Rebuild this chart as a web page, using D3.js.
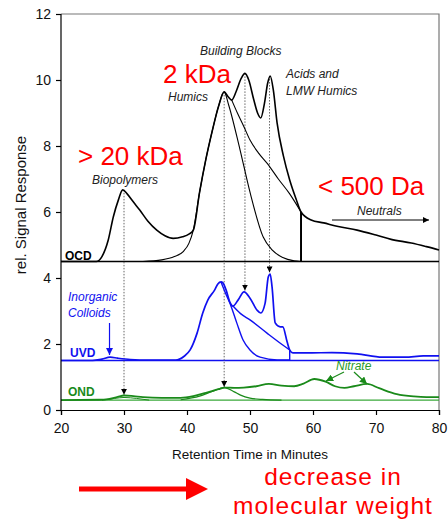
<!DOCTYPE html>
<html><head><meta charset="utf-8">
<script src="https://cdn.jsdelivr.net/npm/d3@7"></script>
<style>body{margin:0;background:#fff}svg{display:block}text{font-family:"Liberation Sans",Arial,sans-serif}</style>
</head><body><svg id="c" width="448" height="521"></svg>
<script>
// ---- data ----
const xTicks = [20,30,40,50,60,70,80];
const yTicks = [0,2,4,6,8,10,12];
const ocdBase = 4.5, uvdBase = 1.5, ondBase = 0.3;
// OCD total chromatogram [minutes, signal]
const ocdMain = [[20,4.5],[25.6,4.5],[26.5,4.65],[27.5,5.15],[28.3,5.85],[29.1,6.36],[29.8,6.67],[30.5,6.55],[31.5,6.3],[32.5,6.06],[33.8,5.72],[35.2,5.45],[36.5,5.28],[37.8,5.2],[39.3,5.25],[40.3,5.33],[41,5.45],[42,6.6],[43,7.6],[44,8.45],[45,9.2],[45.9,9.64],[46.5,9.5],[47.1,9.39],[47.8,9.65],[48.6,10.05],[49.2,10.2],[49.8,10.0],[50.6,9.4],[51.2,9.0],[51.7,8.85],[52.3,9.3],[52.8,9.9],[53.2,10.12],[53.7,9.7],[54.3,8.7],[55.3,7.7],[56.3,6.97],[57.3,6.4],[58.1,6.0],[59.7,5.76],[61.7,5.67],[64,5.56],[67,5.45],[70,5.3],[72.4,5.17],[75.6,5.06],[78,4.95],[80,4.85]];
// OCD humics component
const ocdHumics = [[33,4.5],[36,4.55],[38,4.65],[39.4,4.8],[40.3,5.05],[41,5.45],[42,6.6],[43,7.6],[44,8.45],[45,9.2],[45.9,9.64],[46.6,9.25],[48.4,7.9],[50,6.6],[52.1,5.24],[53.5,4.85],[55.2,4.62],[57,4.52],[58.1,4.5]];
// OCD building-blocks component
const ocdMid = [[47.1,9.39],[48,9.0],[49,8.6],[50,8.18],[51.3,7.8],[52.7,7.48],[54.5,7.0],[56.3,6.55],[58.1,6.0]];
const cutTime = 58.1;
// UVD
const uvdMain = [[20,1.5],[25,1.5],[26.5,1.54],[27.8,1.6],[29,1.57],[31,1.53],[34,1.51],[38.2,1.51],[39.5,1.62],[40.5,1.82],[41.6,2.33],[42.5,2.94],[43.3,3.33],[44.4,3.64],[44.9,3.82],[45.4,3.88],[45.7,3.85],[46.2,3.64],[46.8,3.27],[47.3,3.15],[48.1,3.33],[49.05,3.58],[50,3.39],[51.1,3.03],[51.7,2.94],[52.4,3.24],[52.9,4.03],[53.2,4.12],[53.5,3.73],[54,2.64],[54.8,2.52],[55.2,2.52],[55.9,2.06],[56.3,1.82],[56.8,1.73],[59.5,1.73],[63,1.74],[67,1.7],[71,1.6],[74.6,1.6],[77.5,1.64],[80,1.64]];
const uvdHumics = [[45.4,3.88],[46.2,3.5],[46.8,3.24],[47.9,2.64],[48.9,2.12],[50,1.82],[51.6,1.6],[54.3,1.52],[56.3,1.52]];
const uvdMid = [[47.3,3.15],[48.5,2.92],[50,2.73],[52.7,2.33],[55.2,1.97],[56.3,1.82]];
// OND
const ondMain = [[20,0.3],[26,0.31],[27.5,0.33],[29,0.4],[30,0.44],[31.5,0.42],[33,0.39],[36,0.37],[39,0.37],[41,0.42],[43,0.52],[45,0.63],[46,0.68],[47.5,0.67],[49,0.68],[51,0.72],[53,0.79],[55,0.74],[57,0.72],[58.5,0.8],[60.2,0.94],[62,0.86],[63.5,0.72],[65,0.67],[66.5,0.72],[68.6,0.79],[70.5,0.66],[73.3,0.48],[76,0.41],[78,0.39],[80,0.39]];
const ondHumics = [[39,0.31],[42,0.42],[44,0.56],[45.9,0.68],[47.5,0.55],[48.5,0.45],[50,0.36],[52,0.32],[55,0.3]];
const ondBio = [[26.5,0.3],[28.5,0.35],[30,0.38],[32,0.35],[34,0.3]];
// marker lines: [time, top value, bottom value]
const markers = [[30,6.67,0.46],[45.9,9.64,0.7],[49.2,10.2,3.62],[53.1,10.12,4.17]];

// ---- drawing ----
const svg = d3.select("#c");
const x = d3.scaleLinear().domain([20,80]).range([61,439]);
const y = d3.scaleLinear().domain([0,12]).range([410,14]);
const line = d3.line().x(d=>x(d[0])).y(d=>y(d[1])).curve(d3.curveMonotoneX);
const BLUE="#1010f0", GREEN="#1a8a1a", RED="#ff0000";

svg.append("defs").html(
 '<marker id="ah" viewBox="0 0 10 10" refX="10" refY="5" markerWidth="6" markerHeight="6" orient="auto"><path d="M0,0L10,5L0,10z" fill="#000"/></marker>'+
 '<marker id="ab" viewBox="0 0 10 10" refX="10" refY="5" markerWidth="6" markerHeight="6" orient="auto"><path d="M0,0L10,5L0,10z" fill="'+BLUE+'"/></marker>'+
 '<marker id="ag" viewBox="0 0 10 10" refX="10" refY="5" markerWidth="6" markerHeight="6" orient="auto"><path d="M0,0L10,5L0,10z" fill="'+GREEN+'"/></marker>');

// frame
svg.append("path").attr("d",`M${x(20)},${y(12)}H${x(80)}V${y(0)}`).attr("fill","none").attr("stroke","#777").attr("stroke-width",1.2);

// baselines
svg.append("line").attr("x1",x(20)).attr("x2",x(80)).attr("y1",y(ocdBase)).attr("y2",y(ocdBase)).attr("stroke","#000").attr("stroke-width",1.3);
svg.append("line").attr("x1",x(20)).attr("x2",x(80)).attr("y1",y(uvdBase)).attr("y2",y(uvdBase)).attr("stroke",BLUE).attr("stroke-width",1.6);
svg.append("line").attr("x1",x(20)).attr("x2",x(80)).attr("y1",y(ondBase)).attr("y2",y(ondBase)).attr("stroke","#3aa83a").attr("stroke-width",1.4);

// marker dotted lines
markers.forEach(m=>{
  svg.append("line").attr("x1",x(m[0])).attr("x2",x(m[0])).attr("y1",y(m[1])).attr("y2",y(m[2]))
    .attr("stroke","#666").attr("stroke-width",1).attr("stroke-dasharray","1.5,1.5").attr("marker-end","url(#ah)");
});

// component lines
svg.append("path").attr("d",line(ocdHumics)).attr("fill","none").attr("stroke","#000").attr("stroke-width",1.1);
svg.append("path").attr("d",line(ocdMid)).attr("fill","none").attr("stroke","#000").attr("stroke-width",1.1);
svg.append("line").attr("x1",x(cutTime)).attr("x2",x(cutTime)).attr("y1",y(6.0)).attr("y2",y(ocdBase)).attr("stroke","#000").attr("stroke-width",2);
svg.append("path").attr("d",line(uvdHumics)).attr("fill","none").attr("stroke",BLUE).attr("stroke-width",1.4);
svg.append("path").attr("d",line(uvdMid)).attr("fill","none").attr("stroke",BLUE).attr("stroke-width",1.4);
svg.append("line").attr("x1",x(56.3)).attr("x2",x(56.3)).attr("y1",y(1.82)).attr("y2",y(uvdBase)).attr("stroke",BLUE).attr("stroke-width",1.4);
svg.append("path").attr("d",line(ondHumics)).attr("fill","none").attr("stroke",GREEN).attr("stroke-width",1.2);
svg.append("path").attr("d",line(ondBio)).attr("fill","none").attr("stroke",GREEN).attr("stroke-width",1);

// main curves
svg.append("path").attr("d",line(ocdMain)).attr("fill","none").attr("stroke","#000").attr("stroke-width",1.6);
svg.append("path").attr("d",line(uvdMain)).attr("fill","none").attr("stroke",BLUE).attr("stroke-width",1.7);
svg.append("path").attr("d",line(ondMain)).attr("fill","none").attr("stroke",GREEN).attr("stroke-width",1.8);

// axes
const ax = svg.append("g").attr("transform",`translate(0,${y(0)})`).call(d3.axisBottom(x).tickValues(xTicks).tickSize(5).tickPadding(8));
const ay = svg.append("g").attr("transform",`translate(${x(20)},0)`).call(d3.axisLeft(y).tickValues(yTicks).tickSize(5).tickPadding(5));
[ax,ay].forEach(a=>{a.selectAll("path,line").attr("stroke","#000").attr("stroke-width",1.2);
  a.selectAll("text").attr("font-size","14px").attr("fill","#111").attr("font-family",'"Liberation Sans",Arial,sans-serif');});
ay.select(".domain").attr("d",`M0,${y(12)}V${y(0)}`);

// axis titles
svg.append("text").attr("x",250).attr("y",459).attr("text-anchor","middle").attr("font-size","13.5px").attr("fill","#111").text("Retention Time in Minutes");
svg.append("text").attr("transform","translate(26,205) rotate(-90)").attr("text-anchor","middle").attr("font-size","15px").attr("fill","#111").text("rel. Signal Response");

// annotations
function t(xp,yp,s,opt){const e=svg.append("text").attr("x",xp).attr("y",yp).text(s);
  Object.entries(opt||{}).forEach(([k,v])=>e.attr(k,v));return e;}
const it={"font-size":"12px","font-style":"italic","fill":"#222"};
t(200,55,"Building Blocks",it);
t(168,101,"Humics",it);
t(92,184,"Biopolymers",it);
t(286,78,"Acids and",it);
t(286,95,"LMW Humics",it);
t(357,215,"Neutrals",it);
const rd={"font-size":"26px","fill":RED};
t(163,83,"2 kDa",rd);
t(78,165,"> 20 kDa",rd);
t(318,195,"< 500 Da",rd);
t(65,260,"OCD",{"font-size":"12px","font-weight":"bold","fill":"#000"});
t(70,357,"UVD",{"font-size":"12px","font-weight":"bold","fill":BLUE});
t(68,396,"OND",{"font-size":"12px","font-weight":"bold","fill":GREEN});
t(68,301,"Inorganic",{"font-size":"12px","font-style":"italic","fill":BLUE});
t(68,317,"Colloids",{"font-size":"12px","font-style":"italic","fill":BLUE});
t(336,370,"Nitrate",{"font-size":"12px","font-style":"italic","fill":"#2a9a2a"});
t(333,485,"decrease in",{"font-size":"24.5px","fill":RED,"text-anchor":"middle","letter-spacing":"1px"});
t(333,514,"molecular weight",{"font-size":"24.5px","fill":RED,"text-anchor":"middle","letter-spacing":"1px"});

// annotation arrows
svg.append("line").attr("x1",332).attr("x2",429).attr("y1",220).attr("y2",220).attr("stroke","#000").attr("stroke-width",1).attr("marker-end","url(#ah)");
svg.append("line").attr("x1",x(27.7)).attr("x2",x(27.7)).attr("y1",323).attr("y2",355).attr("stroke",BLUE).attr("stroke-width",1.2).attr("marker-end","url(#ab)");
svg.append("line").attr("x1",344).attr("x2",326).attr("y1",372).attr("y2",381).attr("stroke",GREEN).attr("stroke-width",1.2).attr("marker-end","url(#ag)");
svg.append("line").attr("x1",354).attr("x2",367).attr("y1",372).attr("y2",384).attr("stroke",GREEN).attr("stroke-width",1.2).attr("marker-end","url(#ag)");

// big red arrow
svg.append("line").attr("x1",79).attr("x2",188).attr("y1",489).attr("y2",489).attr("stroke",RED).attr("stroke-width",5);
svg.append("path").attr("d","M186,478L208,489L186,500Z").attr("fill",RED);
</script></body></html>
